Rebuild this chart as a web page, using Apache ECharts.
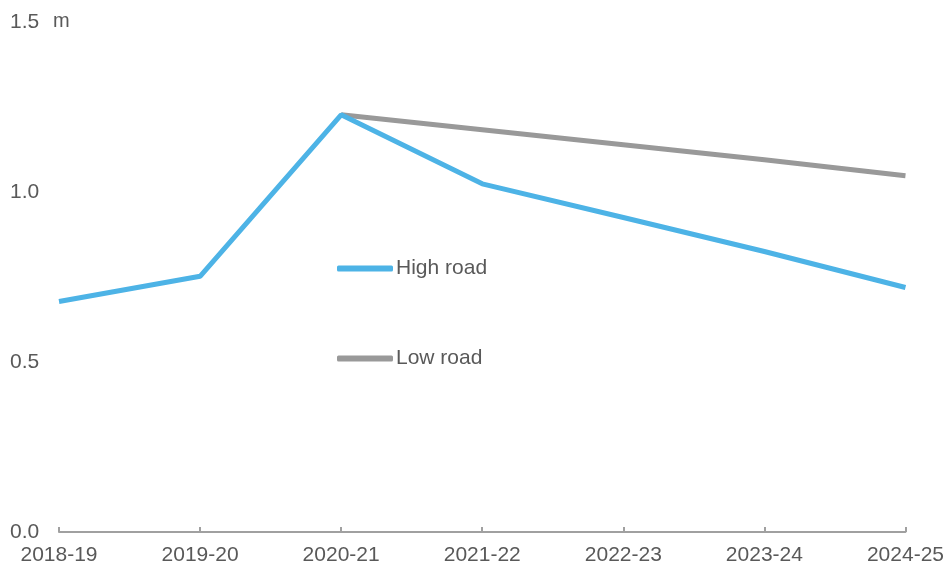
<!DOCTYPE html>
<html><head><meta charset="utf-8">
<script src="https://cdn.jsdelivr.net/npm/echarts@6/dist/echarts.min.js"></script>
<style>html,body{margin:0;padding:0;background:#fff}#c{width:947px;height:568px}</style>
</head><body><div id="c"></div>
<script>
const categories = ['2018-19','2019-20','2020-21','2021-22','2022-23','2023-24','2024-25'];
const highRoad = [0.678, 0.752, 1.227, 1.024, 0.925, 0.825, 0.719];
const lowRoad = [null, null, 1.227, 1.183, 1.139, 1.095, 1.048];
const yTicks = [0, 0.5, 1.0, 1.5];
const chart = echarts.init(document.getElementById('c'));
const font = 'Liberation Sans, Arial, sans-serif';
chart.setOption({
  animation:false,
  backgroundColor:'#fff',
  grid:{left:59,right:39,top:22,bottom:36,containLabel:false},
  legend:{orient:'vertical',left:337,top:258,padding:0,itemWidth:56,itemHeight:6,itemGap:69,icon:'roundRect',
    textStyle:{fontFamily:font,fontSize:21,color:'#595959',padding:[0,0,0,-2]},
    data:['High road','Low road']},
  graphic:[{type:'text',left:53,top:11,style:{text:'m',font:'20px '+font,fill:'#595959'}}],
  xAxis:{type:'category',data:categories,boundaryGap:false,
    axisLine:{lineStyle:{color:'#a0a0a0',width:2}},
    axisTick:{inside:true,length:5,lineStyle:{color:'#a0a0a0',width:2}},
    axisLabel:{fontFamily:font,fontSize:21,color:'#595959',margin:13,interval:0}},
  yAxis:{type:'value',min:yTicks[0],max:yTicks[yTicks.length-1],interval:0.5,
    axisLine:{show:false},axisTick:{show:false},splitLine:{show:false},
    axisLabel:{fontFamily:font,fontSize:21,color:'#595959',align:'left',margin:49,
      padding:[6,0,0,0],formatter:v=>v.toFixed(1)}},
  series:[
    {name:'High road',type:'line',data:highRoad,symbol:'none',z:3,
      lineStyle:{color:'#4db3e6',width:5},itemStyle:{color:'#4db3e6'}},
    {name:'Low road',type:'line',data:lowRoad,symbol:'none',z:2,
      lineStyle:{color:'#999999',width:5},itemStyle:{color:'#999999'}}
  ]
});
</script></body></html>
